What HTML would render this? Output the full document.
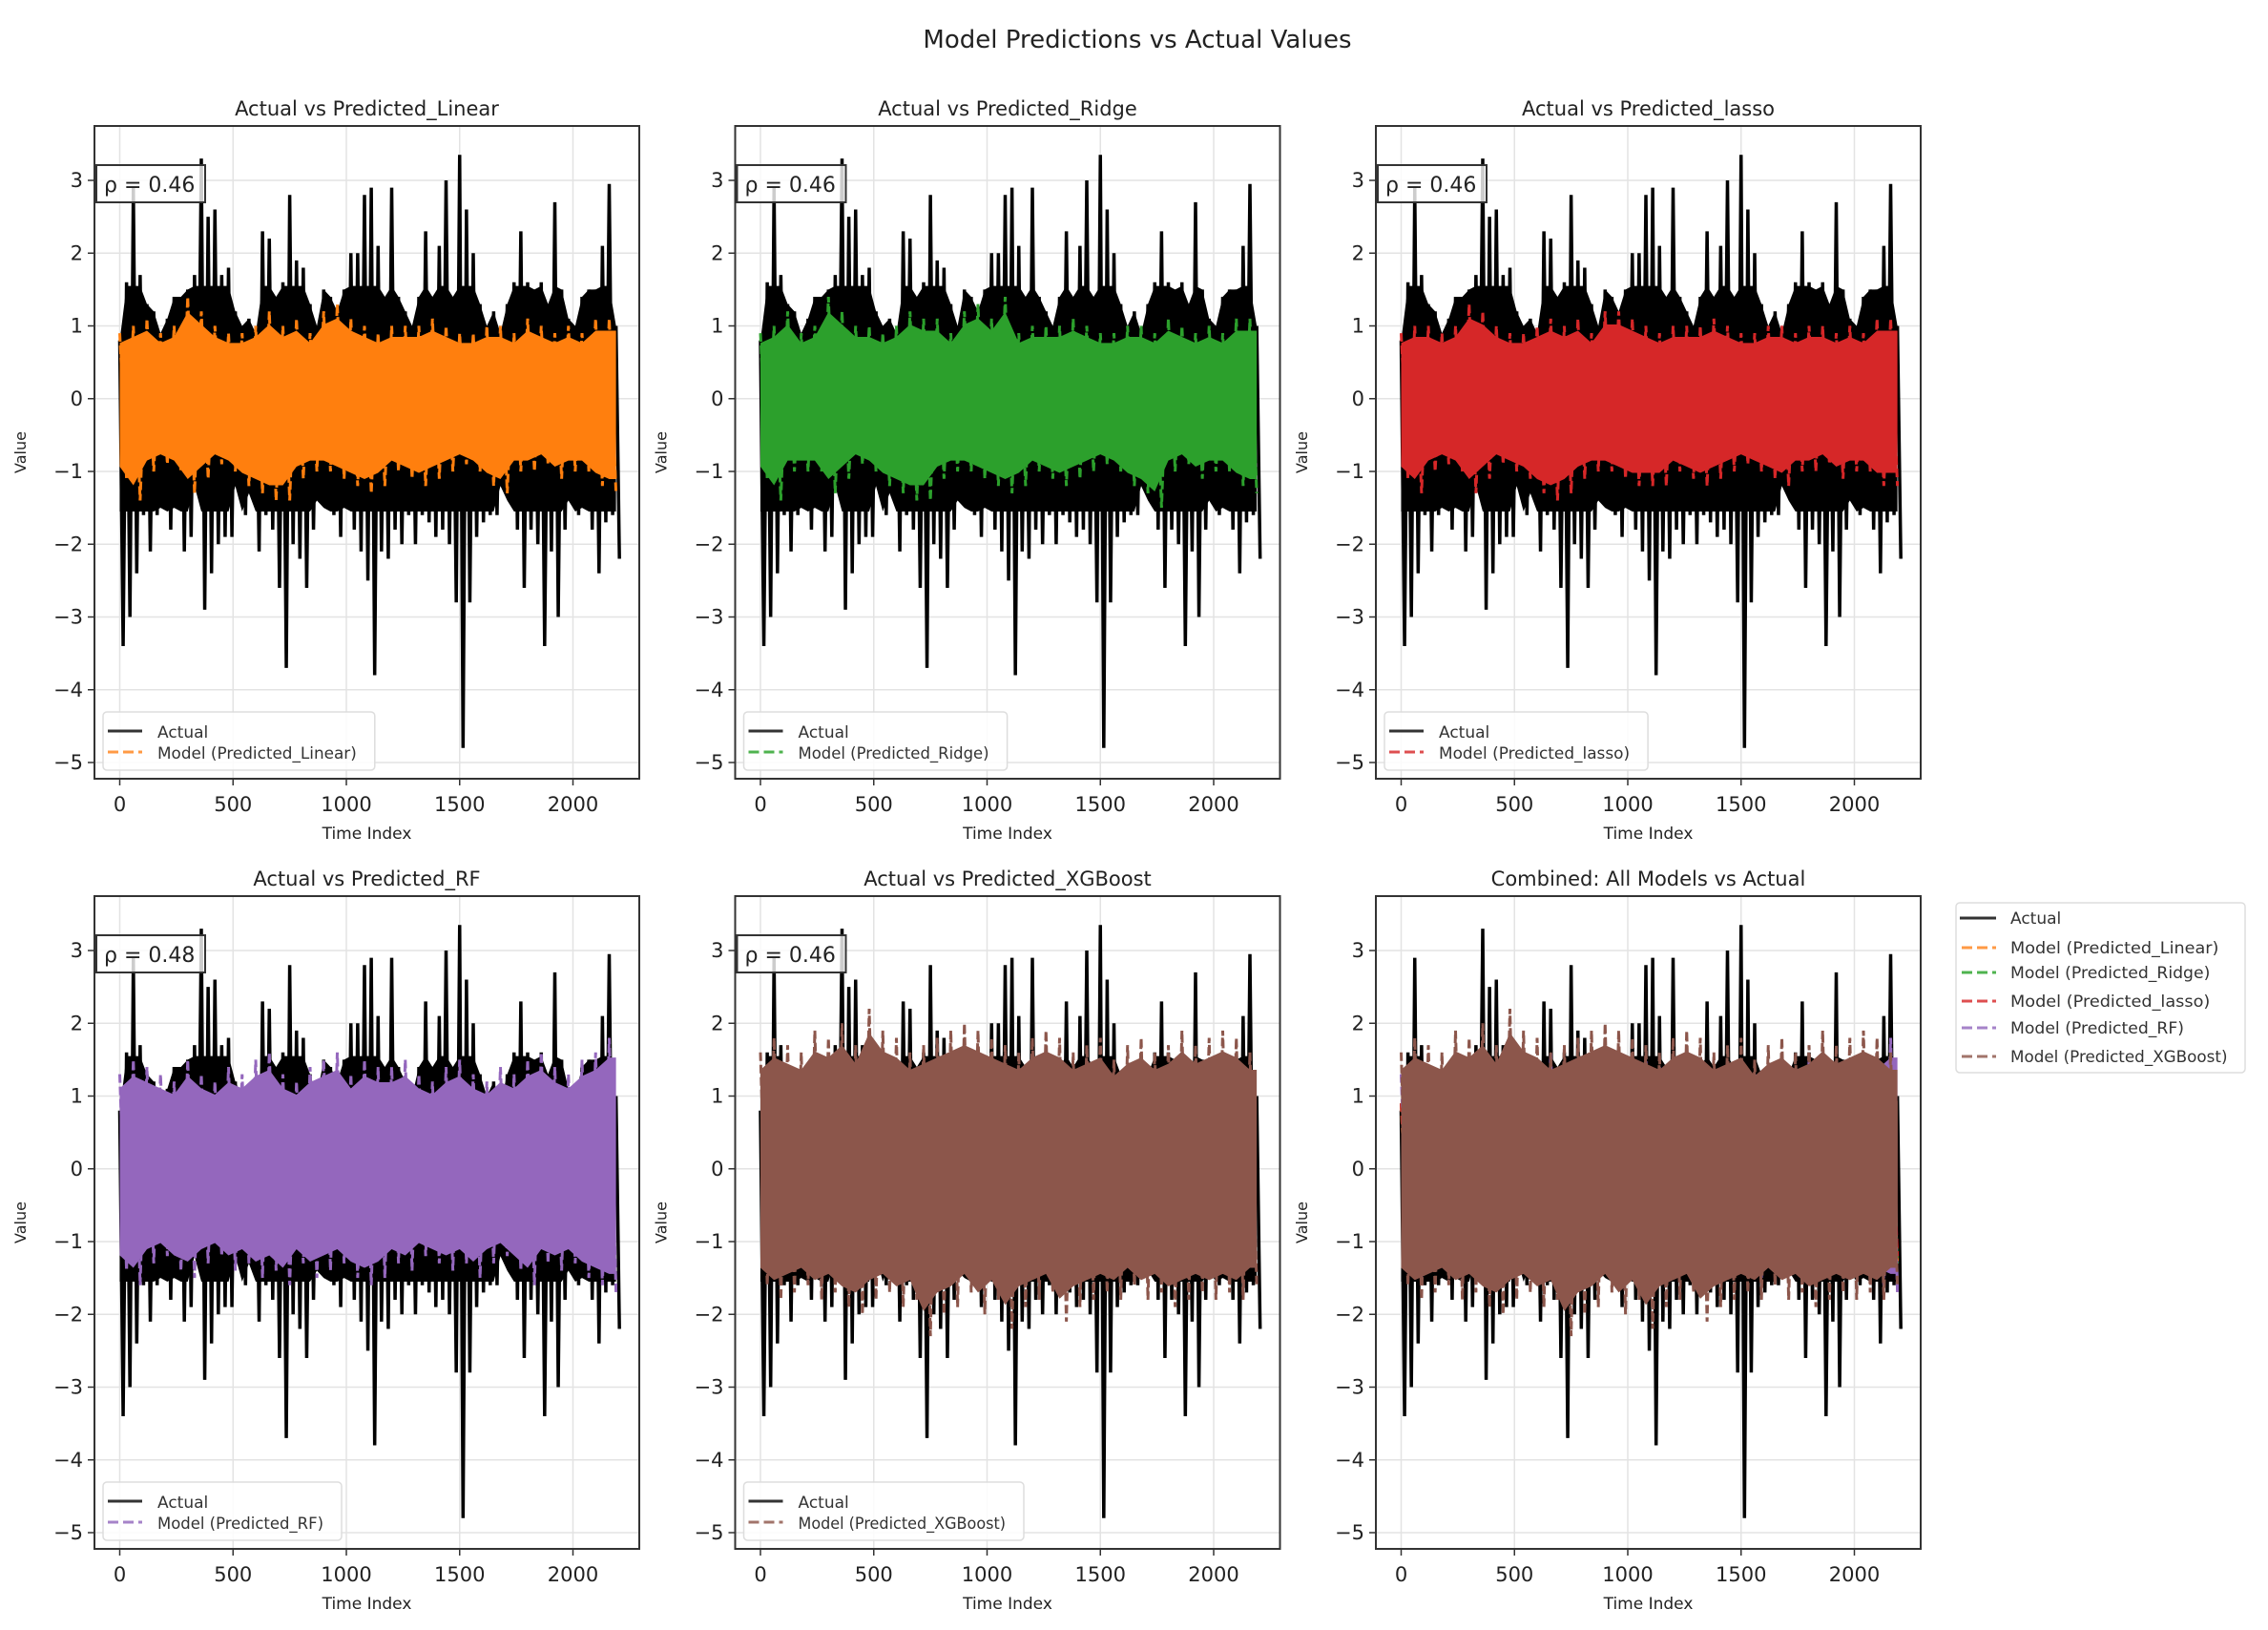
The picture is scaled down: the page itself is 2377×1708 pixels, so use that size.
<!DOCTYPE html>
<html><head><meta charset="utf-8">
<style>
html,body{margin:0;padding:0;background:#fff;}
svg{display:block;font-family:"DejaVu Sans","Liberation Sans",sans-serif;}
</style></head>
<body>
<svg id="fig" width="2377" height="1708" viewBox="0 0 2377 1708" xmlns="http://www.w3.org/2000/svg">
<rect width="2377" height="1708" fill="#fff"/>
<text x="1192" y="50" font-size="26" text-anchor="middle" fill="#222">Model Predictions vs Actual Values</text>
</svg>
<script>
const actualIdx = [0,30,60,90,120,150,180,210,240,270,300,330,360,390,420,450,480,510,540,570,600,630,660,690,720,750,780,810,840,870,900,930,960,990,1020,1050,1080,1110,1140,1170,1200,1230,1260,1290,1320,1350,1380,1410,1440,1470,1500,1530,1560,1590,1620,1650,1680,1710,1740,1770,1800,1830,1860,1890,1920,1950,1980,2010,2040,2070,2100,2130,2160,2190];
const actualHi = [0.8,1.6,2.9,1.7,1.3,1.2,0.9,1.1,1.4,1.4,1.5,1.7,3.3,2.5,2.6,1.7,1.8,1.2,1.0,1.1,0.9,2.3,2.2,1.4,1.6,2.8,1.9,1.8,1.3,1.0,1.5,1.4,1.2,1.5,2.0,2.0,2.8,2.9,2.1,1.4,2.9,1.4,1.2,1.0,1.4,2.3,1.4,2.1,3.0,1.4,3.35,2.6,2.0,1.3,1.0,1.2,0.9,1.3,1.6,2.3,1.6,1.5,1.6,1.3,2.7,1.5,1.1,1.0,1.4,1.5,1.5,2.1,2.95,1.0];
const actualLo = [-3.4,-3.0,-2.4,-1.6,-2.1,-1.6,-1.5,-1.8,-1.5,-2.1,-1.9,-1.2,-2.9,-2.4,-2.0,-1.9,-1.9,-1.2,-1.6,-1.3,-2.1,-1.6,-1.8,-2.6,-3.7,-2.0,-2.2,-2.6,-1.8,-1.4,-1.5,-1.6,-1.9,-1.5,-1.8,-2.1,-2.5,-3.8,-2.1,-2.2,-1.8,-2.0,-1.6,-2.0,-1.6,-1.7,-1.9,-1.8,-2.0,-2.8,-4.8,-2.8,-1.9,-1.7,-1.6,-1.6,-1.2,-1.4,-1.8,-2.6,-1.8,-2.0,-3.4,-2.1,-3.0,-1.8,-1.4,-1.6,-1.5,-1.8,-2.4,-1.7,-1.6,-2.2];
const predIdx = [0,60,120,180,240,300,360,420,480,540,600,660,720,780,840,900,960,1020,1080,1140,1200,1260,1320,1380,1440,1500,1560,1620,1680,1740,1800,1860,1920,1980,2040,2100,2160];
const linearHi = [0.9,1.0,1.1,0.9,1.0,1.4,1.2,1.0,0.9,0.9,1.0,1.2,1.0,1.1,0.9,1.2,1.3,1.1,1.0,0.9,1.0,1.0,1.0,1.1,1.0,0.9,0.9,1.0,1.0,0.9,1.1,1.0,0.9,1.0,0.9,1.1,1.1];
const linearLo = [-1.1,-1.4,-1.0,-0.9,-1.0,-1.3,-1.1,-0.9,-1.0,-1.2,-1.3,-1.4,-1.4,-1.1,-1.0,-1.0,-1.1,-1.2,-1.3,-1.2,-1.0,-1.1,-1.2,-1.1,-1.0,-0.9,-1.0,-1.2,-1.3,-1.0,-1.0,-0.9,-1.1,-1.0,-1.0,-1.2,-1.3];
const ridgeHi = [0.9,1.0,1.2,0.9,1.0,1.4,1.2,1.0,1.0,0.9,1.0,1.2,1.1,1.1,0.9,1.2,1.3,1.1,1.4,0.9,1.0,1.0,1.0,1.1,1.0,0.9,0.9,1.0,1.0,0.9,1.1,1.0,0.9,1.0,0.9,1.1,1.1];
const ridgeLo = [-1.1,-1.4,-1.0,-1.0,-1.0,-1.3,-1.1,-0.9,-1.0,-1.2,-1.3,-1.4,-1.4,-1.1,-1.0,-1.0,-1.1,-1.2,-1.3,-1.2,-1.0,-1.1,-1.2,-1.1,-1.0,-0.9,-1.0,-1.2,-1.3,-1.5,-1.0,-0.9,-1.1,-1.0,-1.0,-1.2,-1.3];
const lassoHi = [0.9,1.0,1.0,0.9,1.0,1.3,1.2,1.0,0.9,0.9,1.0,1.1,1.0,1.1,0.9,1.2,1.2,1.1,1.0,0.9,1.0,1.0,1.0,1.1,1.0,0.9,0.9,1.0,1.0,0.9,1.0,1.0,0.9,1.0,0.9,1.1,1.1];
const lassoLo = [-1.1,-1.3,-1.0,-0.9,-1.0,-1.3,-1.1,-0.9,-1.0,-1.1,-1.3,-1.4,-1.3,-1.1,-1.0,-1.0,-1.1,-1.2,-1.2,-1.2,-1.0,-1.1,-1.2,-1.1,-1.0,-0.9,-1.0,-1.1,-1.2,-1.0,-1.0,-0.9,-1.1,-1.0,-1.0,-1.2,-1.2];
const rfHi = [1.3,1.5,1.4,1.3,1.2,1.5,1.3,1.2,1.4,1.3,1.5,1.6,1.3,1.2,1.4,1.5,1.6,1.3,1.5,1.4,1.4,1.5,1.3,1.2,1.4,1.5,1.3,1.2,1.4,1.3,1.5,1.6,1.4,1.3,1.5,1.6,1.8];
const rfLo = [-1.4,-1.6,-1.3,-1.2,-1.4,-1.5,-1.3,-1.2,-1.4,-1.3,-1.5,-1.4,-1.6,-1.3,-1.5,-1.4,-1.3,-1.5,-1.6,-1.5,-1.3,-1.4,-1.2,-1.3,-1.4,-1.3,-1.5,-1.3,-1.2,-1.4,-1.6,-1.3,-1.4,-1.3,-1.5,-1.6,-1.7];
const xgbHi = [1.6,1.8,1.7,1.6,1.9,1.8,2.0,1.7,2.2,1.9,1.8,1.6,1.7,1.8,1.9,2.0,1.9,1.8,1.7,1.6,1.8,1.9,1.8,1.6,1.7,1.8,1.5,1.7,1.8,1.6,1.7,1.9,1.7,1.8,1.9,1.8,1.6];
const xgbLo = [-1.6,-1.8,-1.7,-1.6,-1.8,-1.7,-1.9,-2.0,-1.8,-1.7,-1.9,-1.8,-2.3,-2.0,-1.9,-1.7,-2.0,-1.8,-2.2,-1.9,-1.8,-1.7,-2.1,-1.9,-1.8,-1.7,-1.8,-1.6,-1.8,-1.7,-1.9,-1.8,-1.7,-1.8,-1.7,-1.8,-1.6];
const rhoValues = ["0.46","0.46","0.46","0.48","0.46"];
const yTicks = [3,2,1,0,-1,-2,-3,-4,-5];
const xTicks = [0,500,1000,1500,2000];

const models = [
  {key:'Linear', hi:linearHi, lo:linearLo, color:'#ff7f0e', lc:'#ff9a45'},
  {key:'Ridge', hi:ridgeHi, lo:ridgeLo, color:'#2ca02c', lc:'#4fb34f'},
  {key:'lasso', hi:lassoHi, lo:lassoLo, color:'#d62728', lc:'#de4f50'},
  {key:'RF', hi:rfHi, lo:rfLo, color:'#9467bd', lc:'#a683c9'},
  {key:'XGBoost', hi:xgbHi, lo:xgbLo, color:'#8c564b', lc:'#a2746b'}
];

const NS='http://www.w3.org/2000/svg';
const fig=document.getElementById('fig');
function mk(tag,attrs,parent){const e=document.createElementNS(NS,tag);for(const k in attrs)e.setAttribute(k,attrs[k]);(parent||fig).appendChild(e);return e;}

const W=571,H=684;
const colLeft=[99,770.5,1442], rowTop=[132,939];
const CW=8.7;

function panel(left,top,title,list,rho,pname){
  const g=mk('g',{});
  
  
  const xs=v=>left+26.5+v*0.2375;
  const ys=v=>top+57+(3-v)*76.25;
  const clipId='clip-'+pname;
  const cp=mk('clipPath',{id:clipId},g);mk('rect',{x:left,y:top,width:W,height:H},cp);
  yTicks.forEach(t=>{const l=mk('line',{x1:left,x2:left+W,y1:ys(t),y2:ys(t),stroke:'#e3e3e3','stroke-width':1.5},g);});
  xTicks.forEach(t=>{const l=mk('line',{y1:top,y2:top+H,x1:xs(t),x2:xs(t),stroke:'#e3e3e3','stroke-width':1.5},g);});
  const dg=mk('g',{'clip-path':'url(#'+clipId+')'},g);
  let pts=[];
  actualIdx.forEach((t,i)=>{pts.push(xs(t)+','+ys(actualHi[i]));pts.push(xs(t+15)+','+ys(actualLo[i]));});
  const a=mk('polyline',{points:pts.join(' '),fill:'none',stroke:'#000','stroke-width':3.5,'stroke-linejoin':'miter'},dg);
  
  
  let top2=[],bot=[];
  actualIdx.forEach((t,i)=>{top2.push(xs(t)+','+ys(Math.min(actualHi[i],1.55)));bot.unshift(xs(t)+','+ys(Math.max(actualLo[i],-1.55)));});
  const af=mk('polygon',{points:top2.concat(bot).join(' '),fill:'#000'},dg);
  
  
  list.forEach(m=>{
    let up=[],dn=[],zz=[];
    predIdx.forEach((t,i)=>{up.push(xs(t)+','+ys(m.hi[i]*0.85));dn.unshift(xs(t)+','+ys(m.lo[i]*0.85));zz.push(xs(t)+','+ys(m.hi[i]));zz.push(xs(t+30)+','+ys(m.lo[i]));});
    up.push(xs(2190)+','+ys(m.hi[m.hi.length-1]*0.85));dn.unshift(xs(2190)+','+ys(m.lo[m.lo.length-1]*0.85));
    const z=mk('polyline',{points:zz.join(' '),fill:'none',stroke:m.color,'stroke-width':3,'stroke-dasharray':'9 4'},dg);
    
    
    const p=mk('polygon',{points:up.concat(dn).join(' '),fill:m.color},dg);
    
    
  });
  const fr=mk('rect',{x:left,y:top,width:W,height:H,fill:'none',stroke:'#333','stroke-width':2},g);
  
  yTicks.forEach(t=>{
    mk('line',{x1:left-7,x2:left,y1:ys(t),y2:ys(t),stroke:'#333','stroke-width':1.5},g);
    const tx=mk('text',{x:left-12,y:ys(t)+7,'font-size':21,'text-anchor':'end',fill:'#222'},g);
    tx.textContent=(t<0?'\u2212'+(-t):''+t);
    
  });
  xTicks.forEach(t=>{
    mk('line',{x1:xs(t),x2:xs(t),y1:top+H,y2:top+H+7,stroke:'#333','stroke-width':1.5},g);
    const tx=mk('text',{x:xs(t),y:top+H+34,'font-size':21,'text-anchor':'middle',fill:'#222'},g);
    tx.textContent=t;
    
  });
  const tt=mk('text',{x:left+W/2,y:top-11,'font-size':21,'text-anchor':'middle',fill:'#222'},g);
  tt.textContent=title;
  const xl=mk('text',{x:left+W/2,y:top+H+63,'font-size':17,'text-anchor':'middle',fill:'#222'},g);
  xl.textContent='Time Index';
  const yl=mk('text',{x:0,y:0,'font-size':16,'text-anchor':'middle',fill:'#222',transform:'translate('+(left-72)+','+(top+H/2)+') rotate(-90)'},g);
  yl.textContent='Value';
  if(rho){
    const rb=mk('rect',{x:left+2,y:top+41,width:114,height:39,fill:'#fff','fill-opacity':0.8,stroke:'#333','stroke-width':2},g);
    
    const rt=mk('text',{x:left+10,y:top+69,'font-size':22,fill:'#222'},g);
    rt.textContent='\u03c1 = '+rho;
    const m=list[0];
    const lab='Model (Predicted_'+m.key+')';
    const lw=66+lab.length*CW+10;
    const lg=mk('g',{},g);
    
    mk('rect',{x:left+9,y:top+614,width:lw,height:61,rx:4,fill:'#fff','fill-opacity':0.85,stroke:'#ddd','stroke-width':1.5},lg);
    mk('line',{x1:left+14,x2:left+50,y1:top+634,y2:top+634,stroke:'#333','stroke-width':3},lg);
    const t1=mk('text',{x:left+66,y:top+641,'font-size':17,fill:'#333'},lg);t1.textContent='Actual';
    
    mk('line',{x1:left+14,x2:left+50,y1:top+656,y2:top+656,stroke:m.lc,'stroke-width':3,'stroke-dasharray':'11 5'},lg);
    const t2=mk('text',{x:left+66,y:top+663,'font-size':17,fill:'#333',textLength:lab.length*CW,lengthAdjust:'spacingAndGlyphs'},lg);t2.textContent=lab;
    
  }
}
panel(colLeft[0],rowTop[0],'Actual vs Predicted_Linear',[models[0]],rhoValues[0],'panel-linear');
panel(colLeft[1],rowTop[0],'Actual vs Predicted_Ridge',[models[1]],rhoValues[1],'panel-ridge');
panel(colLeft[2],rowTop[0],'Actual vs Predicted_lasso',[models[2]],rhoValues[2],'panel-lasso');
panel(colLeft[0],rowTop[1],'Actual vs Predicted_RF',[models[3]],rhoValues[3],'panel-rf');
panel(colLeft[1],rowTop[1],'Actual vs Predicted_XGBoost',[models[4]],rhoValues[4],'panel-xgboost');
panel(colLeft[2],rowTop[1],'Combined: All Models vs Actual',models,null,'panel-combined');

const og=mk('g',{});


mk('rect',{x:2050,y:946,width:303,height:178,rx:4,fill:'#fff',stroke:'#ddd','stroke-width':1.5},og);
const rowsY=[962,993,1019,1049,1077,1107];
mk('line',{x1:2054,x2:2092,y1:rowsY[0],y2:rowsY[0],stroke:'#333','stroke-width':3},og);
const ta=mk('text',{x:2107,y:rowsY[0]+6,'font-size':17,fill:'#333'},og);ta.textContent='Actual';


models.forEach((m,i)=>{
  mk('line',{x1:2056,x2:2092,y1:rowsY[i+1],y2:rowsY[i+1],stroke:m.lc,'stroke-width':3,'stroke-dasharray':'11 5'},og);
  const lab='Model (Predicted_'+m.key+')';
  const t=mk('text',{x:2107,y:rowsY[i+1]+6,'font-size':17,fill:'#333',textLength:lab.length*9.1,lengthAdjust:'spacingAndGlyphs'},og);
  t.textContent=lab;
  
  
});
</script>
</body></html>
